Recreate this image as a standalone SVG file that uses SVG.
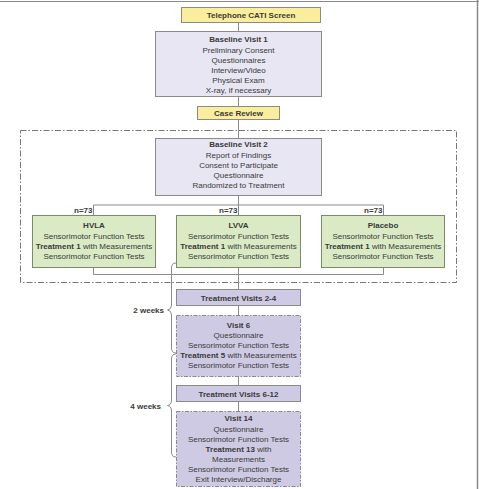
<svg xmlns="http://www.w3.org/2000/svg" width="479" height="489" viewBox="0 0 479 489">
<style>
text{font-family:"Liberation Sans",Arial,sans-serif;font-size:8px;fill:#3a3a3a;text-anchor:middle}
.b{font-weight:bold}
.y{fill:#faed9c;stroke:#8a8a8a;stroke-width:1}
.l{fill:#e7e6f2;stroke:#8a8a8a;stroke-width:1}
.p{fill:#cfcae3;stroke:#8a8a8a;stroke-width:1}
.pd{fill:#cfcae3;stroke:#8a8a8a;stroke-width:1;stroke-dasharray:4 1.5 1.5 1.5}
.g{fill:#d9eac4;stroke:#7b8a6b;stroke-width:1}
.c{stroke:#8a8a8a;stroke-width:1;fill:none}
</style>
<rect x="0" y="0" width="479" height="489" fill="#fff"/>
<line x1="0" y1="1.5" x2="479" y2="1.5" stroke="#8a8a8a" stroke-width="1"/>
<line x1="477.5" y1="0" x2="477.5" y2="489" stroke="#8a8a8a" stroke-width="1.5"/>
<rect x="20.5" y="130.5" width="436" height="152" fill="none" stroke="#777" stroke-width="1" stroke-dasharray="6 2 1.5 2"/>
<g id="connectors" class="c">
<path d="M238.5,23 V31 M238.5,97 V106 M238.5,119 V138 M238.5,195 V205 M93.5,205 H383.5 M93.5,205 V215 M238.5,205 V215 M383.5,205 V215 M93.5,267 V274.5 M383.5,267 V274.5 M93.5,274.5 H383.5 M238.5,267 V289 M238.5,305 V315 M238.5,376 V385 M238.5,401 V411"/>
<path d="M176,263 Q171.5,263 171.5,268 L171.5,305 Q171.5,309.5 167.5,310 Q171.5,310.5 171.5,315 L171.5,348 Q171.5,353 176,353"/>
<path d="M176,354 Q171.5,354 171.5,359 L171.5,400 Q171.5,405 167.5,405.5 Q171.5,406 171.5,411 L171.5,452 Q171.5,457 176,457"/>
</g>
<g id="telephone"><rect class="y" x="181.5" y="7.5" width="139" height="15"/><text class="b" x="251" y="18">Telephone CATI Screen</text></g>
<g id="visit1"><rect class="l" x="155.5" y="31.5" width="166" height="65"/>
<text class="b" x="238.5" y="42">Baseline Visit 1</text>
<text x="238.5" y="53">Preliminary Consent</text>
<text x="238.5" y="63">Questionnaires</text>
<text x="238.5" y="73">Interview/Video</text>
<text x="238.5" y="83">Physical Exam</text>
<text x="238.5" y="93">X-ray, if necessary</text></g>
<g id="casereview"><rect class="y" x="197.5" y="106.5" width="82" height="13"/><text class="b" x="238.5" y="116">Case Review</text></g>
<g id="visit2"><rect class="l" x="155.5" y="138.5" width="166" height="57"/>
<text class="b" x="238.5" y="147">Baseline Visit 2</text>
<text x="238.5" y="157.5">Report of Findings</text>
<text x="238.5" y="167.5">Consent to Participate</text>
<text x="238.5" y="177.5">Questionnaire</text>
<text x="238.5" y="188">Randomized to Treatment</text></g>
<g id="n-labels">
<text class="b" x="92.5" y="213" style="text-anchor:end">n=73</text>
<text class="b" x="237.5" y="213" style="text-anchor:end">n=73</text>
<text class="b" x="382.5" y="213" style="text-anchor:end">n=73</text></g>
<g id="hvla"><rect class="g" x="32.5" y="215.5" width="123" height="52"/>
<text class="b" x="94" y="228">HVLA</text>
<text x="94" y="238.5">Sensorimotor Function Tests</text>
<text x="94" y="249"><tspan class="b">Treatment 1</tspan> with Measurements</text>
<text x="94" y="259">Sensorimotor Function Tests</text></g>
<g id="lvva"><rect class="g" x="176.5" y="215.5" width="124" height="52"/>
<text class="b" x="238.5" y="228">LVVA</text>
<text x="238.5" y="238.5">Sensorimotor Function Tests</text>
<text x="238.5" y="249"><tspan class="b">Treatment 1</tspan> with Measurements</text>
<text x="238.5" y="259">Sensorimotor Function Tests</text></g>
<g id="placebo"><rect class="g" x="321.5" y="215.5" width="123" height="52"/>
<text class="b" x="383" y="228">Placebo</text>
<text x="383" y="238.5">Sensorimotor Function Tests</text>
<text x="383" y="249"><tspan class="b">Treatment 1</tspan> with Measurements</text>
<text x="383" y="259">Sensorimotor Function Tests</text></g>
<g id="tv24"><rect class="p" x="176.5" y="289.5" width="124" height="16"/><text class="b" x="238.5" y="300.5">Treatment Visits 2-4</text></g>
<g id="visit6"><rect class="pd" x="176.5" y="315.5" width="124" height="61"/>
<text class="b" x="238.5" y="328">Visit 6</text>
<text x="238.5" y="338">Questionnaire</text>
<text x="238.5" y="348">Sensorimotor Function Tests</text>
<text x="238.5" y="358"><tspan class="b">Treatment 5</tspan> with Measurements</text>
<text x="238.5" y="368">Sensorimotor Function Tests</text></g>
<g id="tv612"><rect class="p" x="176.5" y="385.5" width="124" height="16"/><text class="b" x="238.5" y="396.5">Treatment Visits 6-12</text></g>
<g id="visit14"><rect class="pd" x="176.5" y="411.5" width="124" height="75"/>
<text class="b" x="238.5" y="421">Visit 14</text>
<text x="238.5" y="432">Questionnaire</text>
<text x="238.5" y="442">Sensorimotor Function Tests</text>
<text x="238.5" y="452"><tspan class="b">Treatment 13</tspan> with</text>
<text x="238.5" y="462">Measurements</text>
<text x="238.5" y="472">Sensorimotor Function Tests</text>
<text x="238.5" y="482">Exit Interview/Discharge</text></g>
<g id="weeks">
<text class="b" x="164" y="313" style="text-anchor:end">2 weeks</text>
<text class="b" x="161" y="409" style="text-anchor:end">4 weeks</text></g>
</svg>
